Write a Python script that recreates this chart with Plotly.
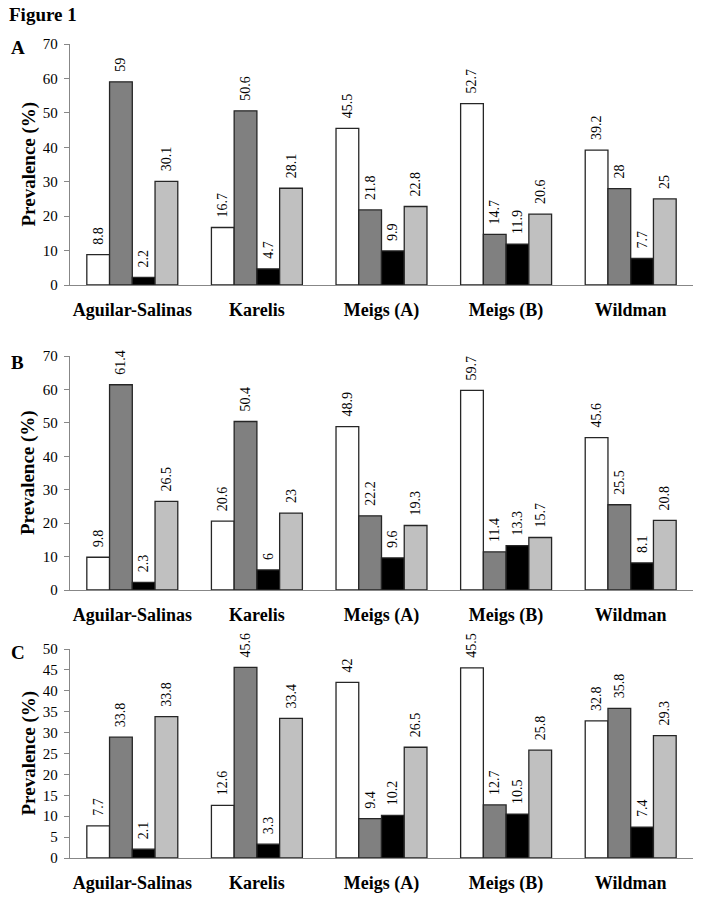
import plotly.graph_objects as go

# datos de la figura
estudios = ["Aguilar-Salinas", "Karelis", "Meigs (A)", "Meigs (B)", "Wildman"]
colores = ["#ffffff", "#808080", "#000000", "#c0c0c0"]

# panel A
a_s1 = [8.8, 16.7, 45.5, 52.7, 39.2]
a_s2 = [59, 50.6, 21.8, 14.7, 28]
a_s3 = [2.2, 4.7, 9.9, 11.9, 7.7]
a_s4 = [30.1, 28.1, 22.8, 20.6, 25]

# panel B
b_s1 = [9.8, 20.6, 48.9, 59.7, 45.6]
b_s2 = [61.4, 50.4, 22.2, 11.4, 25.5]
b_s3 = [2.3, 6, 9.6, 13.3, 8.1]
b_s4 = [26.5, 23, 19.3, 15.7, 20.8]

# panel C (la barra gris de Aguilar-Salinas llega a ~29 aunque la etiqueta dice 33.8)
c_s1 = [7.7, 12.6, 42, 45.5, 32.8]
c_s2 = [28.9, 45.6, 9.4, 12.7, 35.8]
c_s2_etiquetas = ["33.8", "45.6", "9.4", "12.7", "35.8"]
c_s3 = [2.1, 3.3, 10.2, 10.5, 7.4]
c_s4 = [33.8, 33.4, 26.5, 25.8, 29.3]

paneles = [
    ("A", [a_s1, a_s2, a_s3, a_s4], None, [0, 70], 10, (285, 44), 48),
    ("B", [b_s1, b_s2, b_s3, b_s4], None, [0, 70], 10, (590, 356), 362),
    ("C", [c_s1, c_s2, c_s3, c_s4], {1: c_s2_etiquetas}, [0, 50], 5, (858, 649), 652),
]

W, H = 706, 897
X0, X1 = 70, 693
serif = "Liberation Serif"
esp = "\u00a0\u00a0"  # separacion entre la barra y su etiqueta

fig = go.Figure()
layout = {}
anotaciones = []

for i, (letra, series, etiquetas, rango, paso, (ybase, ytop), yletra) in enumerate(paneles):
    n = "" if i == 0 else str(i + 1)
    for j, vals in enumerate(series):
        textos = [str(v) for v in vals]
        if etiquetas and j in etiquetas:
            textos = etiquetas[j]
        fig.add_trace(go.Bar(
            x=estudios, y=vals, text=[esp + t for t in textos],
            textposition="outside", textangle=-90, constraintext="none",
            cliponaxis=False,
            textfont=dict(family=serif, size=14, color="black"),
            marker=dict(color=colores[j], line=dict(color="#262626", width=1.3)),
            xaxis="x" + n, yaxis="y" + n, showlegend=False, offsetgroup=str(j),
        ))
    layout["xaxis" + n] = dict(
        domain=[X0 / W, X1 / W], anchor="y" + n, range=[-0.5, 4.5],
        showline=True, linecolor="#878787", linewidth=1.3,
        ticks="", ticklabelstandoff=8,
        tickfont=dict(family=serif, size=18, color="black", weight="bold"),
        showgrid=False, automargin=False,
    )
    layout["yaxis" + n] = dict(
        domain=[1 - ybase / H, 1 - ytop / H], anchor="x" + n, range=rango,
        dtick=paso, showline=True, linecolor="#878787", linewidth=1.3,
        ticks="outside", ticklen=5, tickcolor="#878787", ticklabelstandoff=3,
        tickfont=dict(family=serif, size=15, color="black"),
        showgrid=False, zeroline=False, automargin=False,
    )
    anotaciones.append(dict(
        text="<b>Prevalence (%)</b>", textangle=-90, x=28 / W, y=1 - (ybase + ytop) / 2 / H,
        xref="paper", yref="paper", showarrow=False, xanchor="center", yanchor="middle",
        font=dict(family=serif, size=19, color="black"),
    ))
    anotaciones.append(dict(
        text="<b>" + letra + "</b>", x=9 / W, y=1 - yletra / H,
        xref="paper", yref="paper", showarrow=False, xanchor="left", yanchor="middle",
        font=dict(family=serif, size=19, color="black"),
    ))

anotaciones.append(dict(
    text="<b>Figure 1</b>", x=7 / W, y=1 - 15 / H, xref="paper", yref="paper",
    showarrow=False, xanchor="left", yanchor="middle",
    font=dict(family=serif, size=19, color="black"),
))

fig.update_layout(
    width=W, height=H, margin=dict(l=0, r=0, t=0, b=0, autoexpand=False),
    paper_bgcolor="white", plot_bgcolor="white",
    barmode="group", bargap=0.27, bargroupgap=0,
    annotations=anotaciones, **layout,
)

fig.write_html("out.html", config={"displayModeBar": False},
               post_script="document.body.style.margin='0';")
